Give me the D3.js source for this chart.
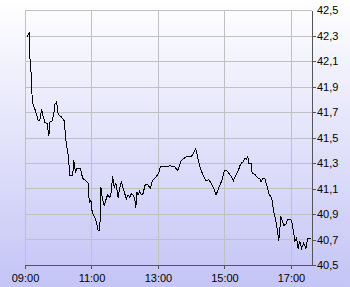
<!DOCTYPE html>
<html><head><meta charset="utf-8">
<script src="https://cdn.jsdelivr.net/npm/d3@7"></script>
<style>html,body{margin:0;padding:0;overflow:hidden;background:#fff}</style>
</head><body>
<script>
const times = ["09:04","09:08","09:09","09:12","09:13","09:16","09:18","09:21","09:24","09:27","09:30","09:33","09:36","09:40","09:43","09:45","09:49","09:52","09:54","09:57","10:00","10:06","10:11","10:13","10:15","10:18","10:21","10:26","10:28","10:31","10:34","10:40","10:44","10:50","10:54","10:56","10:59","11:00","11:03","11:08","11:12","11:15","11:17","11:20","11:23","11:26","11:29","11:33","11:36","11:38","11:41","11:44","11:45","11:48","11:51","11:54","11:57","12:00","12:03","12:06","12:09","12:12","12:15","12:18","12:20","12:22","12:24","12:27","12:30","12:33","12:37","12:42","12:46","12:50","12:54","12:58","13:02","13:04","13:12","13:18","13:22","13:27","13:30","13:36","13:42","13:51","14:00","14:03","14:08","14:11","14:15","14:18","14:23","14:27","14:32","14:36","14:41","14:45","14:50","14:55","15:00","15:04","15:08","15:13","15:16","15:20","15:25","15:28","15:31","15:34","15:37","15:40","15:42","15:44","15:48","15:50","15:55","15:59","16:01","16:04","16:06","16:09","16:13","16:16","16:21","16:25","16:29","16:33","16:36","16:38","16:42","16:44","16:47","16:51","16:54","16:58","17:01","17:04","17:07","17:10","17:13","17:16","17:19","17:23","17:27","17:30","17:34","17:37"];
const values = [42.29,42.33,42.12,41.95,41.78,41.74,41.72,41.68,41.63,41.64,41.72,41.66,41.62,41.61,41.51,41.62,41.63,41.69,41.76,41.78,41.68,41.66,41.63,41.51,41.44,41.36,41.20,41.20,41.32,41.23,41.26,41.26,41.18,41.16,41.14,40.99,41.01,40.94,40.90,40.85,40.77,40.77,41.11,41.01,40.97,41.01,41.05,41.03,41.08,41.20,41.11,41.14,41.12,41.03,41.10,41.16,41.10,41.06,41.02,41.05,41.03,41.06,41.05,41.02,40.95,41.07,41.05,41.08,41.05,41.06,41.13,41.13,41.10,41.16,41.18,41.20,41.23,41.27,41.27,41.27,41.28,41.27,41.27,41.24,41.32,41.35,41.35,41.37,41.41,41.36,41.28,41.24,41.19,41.16,41.17,41.14,41.10,41.05,41.11,41.16,41.24,41.24,41.22,41.19,41.16,41.20,41.24,41.28,41.30,41.31,41.34,41.33,41.35,41.30,41.30,41.22,41.21,41.19,41.18,41.18,41.15,41.18,41.18,41.13,41.05,41.03,40.92,40.84,40.76,40.69,40.88,40.85,40.81,40.82,40.86,40.86,40.85,40.78,40.69,40.71,40.63,40.69,40.63,40.67,40.63,40.71,40.71,40.71];
const xTickLabels = ["09:00","11:00","13:00","15:00","17:00"];
const yTicks = [40.5,40.7,40.9,41.1,41.3,41.5,41.7,41.9,42.1,42.3,42.5];
const xDomain = ["09:00","17:38"];
const yDomain = [40.5,42.5];

const W=350,H=287;
const L=25,R=312,T=10,B=265;
const parse=d3.timeParse("%H:%M");
const data=times.map((t,i)=>({t:parse(t),v:values[i]}));
const svg=d3.select("body").append("svg").attr("width",W).attr("height",H);
const defs=svg.append("defs");
const g=defs.append("linearGradient").attr("id","bg").attr("x1",0).attr("y1",0).attr("x2",0).attr("y2",1);
g.append("stop").attr("offset","0%").attr("stop-color","#ffffff");
g.append("stop").attr("offset","100%").attr("stop-color","#c4c4f6");
svg.append("rect").attr("width",W).attr("height",H).attr("fill","url(#bg)");

const x=d3.scaleTime().domain(xDomain.map(parse)).range([L,R]);
const y=d3.scaleLinear().domain(yDomain).range([B,T]);
const fmt=v=>d3.format(".1f")(v).replace(".",",");

// grid
const grid=svg.append("g").attr("stroke","#c0c0c0").attr("stroke-width",1).attr("shape-rendering","crispEdges");
yTicks.forEach(v=>grid.append("line").attr("x1",L).attr("x2",R).attr("y1",Math.round(y(v))+0.5).attr("y2",Math.round(y(v))+0.5));
xTickLabels.forEach(s=>grid.append("line").attr("x1",Math.round(x(parse(s)))+0.5).attr("x2",Math.round(x(parse(s)))+0.5).attr("y1",T).attr("y2",B));

// line
svg.append("path").datum(data).attr("fill","none").attr("stroke","#000").attr("stroke-width",1)
  .attr("shape-rendering","crispEdges")
  .attr("d",d3.line().x(d=>x(d.t)).y(d=>y(d.v)));

// axes
const ax=d3.axisBottom(x).tickValues(xTickLabels.map(parse)).tickFormat(d3.timeFormat("%H:%M")).tickSize(4).tickSizeOuter(0);
const gx=svg.append("g").attr("transform",`translate(0,${B})`).call(ax);
const ay=d3.axisRight(y).tickValues(yTicks).tickFormat(fmt).tickSize(4).tickSizeOuter(0).tickPadding(1);
const gy=svg.append("g").attr("transform",`translate(${R},0)`).call(ay);
[gx,gy].forEach(a=>{
  a.select(".domain").attr("stroke","#555").attr("shape-rendering","crispEdges");
  a.selectAll(".tick line").attr("stroke","#555").attr("shape-rendering","crispEdges");
  a.selectAll("text").attr("fill","#000").style("font-family","'Liberation Sans',Arial,sans-serif").style("font-size","11px");
});
gy.selectAll(".tick").filter(d=>d===42.5).select("line").remove();
gy.selectAll(".tick").filter(d=>d===42.5).select("text").attr("x",5);
gx.selectAll("text").attr("dy","0.9em");
</script>
</body></html>
